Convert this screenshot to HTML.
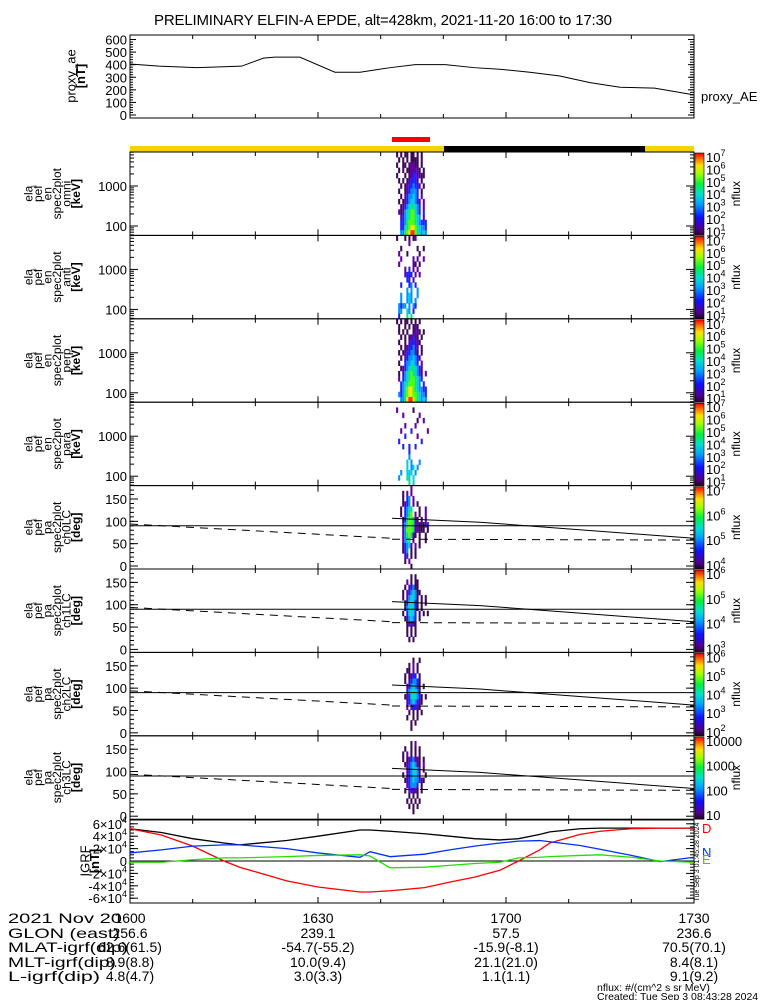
<!DOCTYPE html>
<html><head><meta charset="utf-8">
<style>
html,body{margin:0;padding:0;background:#fff;}
svg{display:block;font-family:"Liberation Sans",sans-serif;}
</style></head>
<body>
<svg id="chart" width="775" height="1000" viewBox="0 0 775 1000" xmlns="http://www.w3.org/2000/svg"></svg>
<script>
// ---------- DATA ----------
const aeMinutes = [0,4.6,10.6,13.8,17.8,21.3,23.1,27.1,32.7,36.7,41.5,45.5,50.3,55,59,63.8,68.6,73.4,78.2,83.7,90];
const aeValues  = [405,388,376,381,388,452,460,460,340,340,376,400,400,376,364,340,310,257,221,214,160];
const aeTicks = [0,100,200,300,400,500,600];

const igrfMinutes = [0,5,10,15,17.5,25,30,36.7,38.3,41.5,47,51,55,59,62,65.4,67,71.8,75,80,84.6,90];
const igrfTotal = [5.2,4.6,3.6,2.9,2.6,3.3,4.0,5.0,5.0,4.8,4.4,4.0,3.6,3.4,3.6,4.3,4.7,5.2,5.3,5.3,5.3,5.3];
const igrfD     = [5.2,4.2,2.4,0.0,-1.0,-3.2,-4.2,-5.0,-5.0,-4.8,-4.3,-3.4,-2.6,-1.5,0.0,1.8,2.9,4.3,4.8,5.2,5.3,5.3];
const igrfN     = [1.3,1.8,2.4,2.6,2.6,2.0,1.3,0.6,1.5,0.7,1.1,1.8,2.4,2.9,3.2,3.3,3.1,2.5,1.9,0.9,-0.1,0.6];
const igrfE     = [-0.2,-0.2,0.2,0.5,0.5,0.7,0.9,1.0,0.8,-1.1,-1.0,-0.7,-0.4,-0.2,0.5,0.6,0.7,0.9,1.0,0.6,0.0,-0.2];
const igrfTicks = [-6,-4,-2,0,2,4,6];

const timeTickLabels = ["1600","1630","1700","1730"];
const rowNames = ["2021 Nov 20","GLON (east)","MLAT-igrf(dip)","MLT-igrf(dip)","L-igrf(dip)"];
const rowNameWidths = [114,112,120,108,92];
const glonVals = ["256.6","239.1","57.5","236.6"];
const mlatVals = ["62.6(61.5)","-54.7(-55.2)","-15.9(-8.1)","70.5(70.1)"];
const mltVals  = ["8.9(8.8)","10.0(9.4)","21.1(21.0)","8.4(8.1)"];
const lVals    = ["4.8(4.7)","3.0(3.3)","1.1(1.1)","9.1(9.2)"];

const specOmni = [
"..1.1.11.11.1.1....",
"...1.1.1.1111.1....",
"..1..11.12211.1....",
"...1.1.1122221.1...",
"..1...1.12332211...",
"...1.1.123332.1....",
"....1.12334332.1...",
"...1..1234443.1....",
"....1.2344543.2....",
"...1.123455432.2...",
"....1234566543.2...",
"...21245677543.3...",
"....2345677654.2...",
"....3346777654333..",
"....3356788765443..",
"....4467899765454.."];
const specAnti = [
"..1...1.1.12.......",
"........2..........",
"....1.......1..1...",
"...2...1.....1.....",
"....2.....2.2..2...",
"...2......21.1.....",
"......2.3.2.2......",
"......2333.2.2.....",
".......33.2........",
"....3...34.3.......",
".......4.4..4......",
"....4..454..4......",
"....4..454.4.......",
"...4344.4.43.......",
"...44..54.3........",
"...3...6.6........."];
const specPerp = [
"..1.1.11.1.1.1.....",
"...1..1.1.121......",
"...1.1.1..1221.1...",
"....1.1.12321.1....",
"...1..1.233221.....",
"....1.1233432.1....",
"...1.12334431.1....",
"....1.23445432.....",
"...1..3445543.2....",
"....12345665432....",
"...1.2456765432.2..",
"...2.3456776543....",
"....3456777654.3...",
"....3457887654433..",
"...43467887765443..",
"....4468998765454.."];
const specPara = [
"...................",
"..2.......1........",
".....2.......2.....",
"............1..2...",
"......2....2.......",
"....2....3.......2.",
"......3.....2......",
"...3..........3....",
".....3..3..3.......",
"........3..........",
"........4..........",
".......5.4...4.....",
".......5.45.4......",
"....4..555.4.......",
"...4...65.5........",
"........6.5........"];
const paCh0 = [
"........2..........",
"....1.2.2..........",
"....1.34.2.........",
"....1234.2.1.......",
"...1.3456...1..2...",
"...1.3467.2.1..2...",
"....13577621.1.2...",
"....2467762211123..",
"....24777622111.1..",
"....2467621.1..1...",
"....2456.2..1..1...",
"....13452.2.1......",
"....134.1.1........",
".....23.1.1........",
".....1.2...........",
"........1.........."];
const paCh1 = [
"...................",
"........1.1........",
"......2.1.11.......",
".....1.23411.......",
"....1.2345411......",
"....1.245541.1.1...",
".....1355531.1.1...",
".....1456531.1.....",
"....1.35553.1.1.1..",
".....124543.1......",
"......12321........",
"......1.1.1........",
"......1.1.1........",
".......1.1.........",
"...................",
"..................."];
const paCh2 = [
"...................",
".........1..1......",
".......1.2.1.......",
"......11.2.1.......",
".....1.1233.1......",
".....1.234431......",
"......2345431.1....",
"......3456541......",
".....123565431.1...",
"......23454321.....",
"......2.23321......",
".......1.1.1.1.....",
"......1..1.1.......",
"........1.1........",
"........1..........",
"..................."];
const paCh3 = [
"...................",
"........1.2........",
".....1..1.1.1......",
"....1.2.1.1.1......",
"....1.1234221.1....",
".....12345421.2....",
"......2345542.1....",
"....1.2345542..1...",
".....1234544321....",
"......234443.1.....",
".....1.23221.1.....",
".......1.1.1.......",
"......1.1.1.1......",
".......1.1.1.......",
".........1.........",
"..................."];

const cbLabels = [
  ["7","6","5","4","3","2","1"],
  ["7","6","5","4","3","2","1"],
  ["7","6","5","4","3","2","1"],
  ["7","6","5","4","3","2","1"],
  ["7","6","5","4"],
  ["6","5","4","3"],
  ["6","5","4","3","2"],
  ["10000","1000","100","10"]
];

// ---------- SETUP ----------
const svg = document.getElementById('chart');
const NS = "http://www.w3.org/2000/svg";
function el(tag, attrs, parent){
  const e = document.createElementNS(NS, tag);
  for (const k in attrs) e.setAttribute(k, attrs[k]);
  (parent||svg).appendChild(e);
  return e;
}
const X0 = 130, X1 = 694;
const xOfMin = m => X0 + (X1 - X0) * m / 90;
const palette = {"1":"#3c0858","2":"#6000a8","3":"#1a20ff","4":"#0090ff","5":"#00d0e8","6":"#00e880","7":"#50ff00","8":"#ffe000","9":"#ff3000"};

let t = el('text',{x:383,y:25,'text-anchor':'middle','font-size':15,textLength:458});
t.textContent = "PRELIMINARY ELFIN-A EPDE, alt=428km, 2021-11-20 16:00 to 17:30";



function xTicks(top, bottom, g){
  for (let i=0;i<=9;i++){
    const x = X0 + i*(X1-X0)/9;
    const len = (i%3===0)?6:4;
    el('line',{x1:x,y1:bottom,x2:x,y2:bottom-len,stroke:'#000'},g);
    el('line',{x1:x,y1:top,x2:x,y2:top+len,stroke:'#000'},g);
  }
}
function rotLabel(lines, cx, cy, g, fs){
  const n = lines.length;
  lines.forEach((s,i)=>{
    const x = cx - (n-1-i)*9.5;
    const tx = el('text',{x:x,y:cy,'font-size':fs||12,'text-anchor':'middle',transform:`rotate(-90 ${x} ${cy})`},g);
    tx.textContent = s;
    if (s.startsWith('[')) tx.setAttribute('font-weight','bold');
  });
}

// ---------- TOP AE PANEL ----------
const aeG = el('g',{});


const aeTop=35, aeBot=118;
const yAE = v => 115 - v*(115-39.5)/600;
el('rect',{x:X0,y:aeTop,width:X1-X0,height:aeBot-aeTop,fill:'none',stroke:'#000'},aeG);
xTicks(aeTop,aeBot,aeG);
aeTicks.forEach(v=>{
  const y=yAE(v);
  el('line',{x1:X0,y1:y,x2:X0+6,y2:y,stroke:'#000'},aeG);
  el('line',{x1:X1,y1:y,x2:X1-6,y2:y,stroke:'#000'},aeG);
  const tl=el('text',{x:X0-3,y:y+5,'text-anchor':'end','font-size':13},aeG); tl.textContent=v;
});
for (let v=20; v<600; v+=20){ const y=yAE(v);
  el('line',{x1:X0,y1:y,x2:X0+3,y2:y,stroke:'#000'},aeG);
  el('line',{x1:X1,y1:y,x2:X1-4,y2:y,stroke:'#000'},aeG);}
rotLabel(["proxy_ae","[nT]"],85,76,aeG,13);
const aeLine = el('polyline',{points:aeMinutes.map((m,i)=>xOfMin(m)+','+yAE(aeValues[i])).join(' '),fill:'none',stroke:'#000','stroke-width':1},aeG);


const aeLeg = el('text',{x:701,y:101,'font-size':13},aeG); aeLeg.textContent="proxy_AE";



// ---------- STATUS BARS ----------
const bars = el('g',{});


el('rect',{x:392,y:137,width:38,height:5,fill:'#f00'},bars);
el('rect',{x:X0,y:146,width:X1-X0,height:6,fill:'#f7d100'},bars);
el('rect',{x:444,y:146,width:201,height:6,fill:'#000'},bars);

// ---------- SPECTRO PANELS ----------
const PT = 152, PH = 83.4;
const panels = [
  {grid:specOmni, lab:["ela","pef","en","spec2plot","omni","[keV]"], kind:'en', name:'omni'},
  {grid:specAnti, lab:["ela","pef","en","spec2plot","anti","[keV]"], kind:'en', name:'anti'},
  {grid:specPerp, lab:["ela","pef","en","spec2plot","perp","[keV]"], kind:'en', name:'perp'},
  {grid:specPara, lab:["ela","pef","en","spec2plot","para","[keV]"], kind:'en', name:'para'},
  {grid:paCh0, lab:["ela","pef","pa","spec2plot","ch0LC","[deg]"], kind:'pa', name:'ch0lc'},
  {grid:paCh1, lab:["ela","pef","pa","spec2plot","ch1LC","[deg]"], kind:'pa', name:'ch1lc'},
  {grid:paCh2, lab:["ela","pef","pa","spec2plot","ch2LC","[deg]"], kind:'pa', name:'ch2lc'},
  {grid:paCh3, lab:["ela","pef","pa","spec2plot","ch3LC","[deg]"], kind:'pa', name:'ch3lc'}
];
panels.forEach((p,pi)=>{
  const top = PT + pi*PH, bot = top + PH;
  const g = el('g',{});
  
  
  const gx0 = p.kind==='en' ? 392 : 394, cw = 2.05;
  const rows = p.grid.length, rh = PH/rows;
  p.grid.forEach((row,ri)=>{
    for (let ci=0; ci<row.length; ci++){
      const c=row[ci]; if (c==='.') continue;
      el('rect',{x:gx0+ci*cw,y:top+ri*rh,width:cw,height:rh+0.3,fill:palette[c]},g);
    }
  });
  el('rect',{x:X0,y:top,width:X1-X0,height:PH,fill:'none',stroke:'#000'},g);
  xTicks(top,bot,g);
  if (p.kind==='en'){
    const yE = e => top + 74 - (Math.log10(e)-2)*40;
    [100,1000].forEach(v=>{
      const y=yE(v);
      el('line',{x1:X0,y1:y,x2:X0+8,y2:y,stroke:'#000'},g);
      el('line',{x1:X1,y1:y,x2:X1-8,y2:y,stroke:'#000'},g);
      const tl=el('text',{x:X0-3,y:y+5,'text-anchor':'end','font-size':13},g); tl.textContent=v;
    });
    [60,70,80,90,200,300,400,500,600,700,800,900,2000,3000,4000,5000,6000,7000].forEach(v=>{
      const y=yE(v); if (y<top||y>bot) return;
      el('line',{x1:X0,y1:y,x2:X0+4,y2:y,stroke:'#000'},g);
      el('line',{x1:X1,y1:y,x2:X1-4,y2:y,stroke:'#000'},g);
    });
  } else {
    const yP = d => bot - 3 - d*(PH-3)/180;
    [0,50,100,150].forEach(v=>{
      const y=yP(v);
      el('line',{x1:X0,y1:y,x2:X0+8,y2:y,stroke:'#000'},g);
      el('line',{x1:X1,y1:y,x2:X1-8,y2:y,stroke:'#000'},g);
      const tl=el('text',{x:X0-3,y:y+5,'text-anchor':'end','font-size':13},g); tl.textContent=v;
    });
    for (let v=10; v<180; v+=10){ const y=yP(v);
      el('line',{x1:X0,y1:y,x2:X0+4,y2:y,stroke:'#000'},g);
      el('line',{x1:X1,y1:y,x2:X1-4,y2:y,stroke:'#000'},g);}
    el('line',{x1:X0,y1:yP(90),x2:X1,y2:yP(90),stroke:'#000'},g);
    el('polyline',{points:`${X0},${yP(94)} 392,${yP(62)}`,fill:'none',stroke:'#000','stroke-dasharray':'8,6'},g);
    el('polyline',{points:`392,${yP(60)} ${X1},${yP(58)}`,fill:'none',stroke:'#000','stroke-dasharray':'8,6'},g);
    el('polyline',{points:`392,${yP(107)} 480,${yP(98)} ${X1},${yP(62)}`,fill:'none',stroke:'#000'},g);
  }
  rotLabel(p.lab, 80, top+PH/2, g, 12);
  const cb = el('g',{});
  
  
  const cbTop = top+1, cbH = PH-1;
  const id='grad'+pi;
  const lg = el('linearGradient',{id:id,x1:0,y1:1,x2:0,y2:0},cb);
  [["0","#200020"],["0.08","#500090"],["0.22","#1010ff"],["0.38","#00a0ff"],["0.5","#00e0d0"],["0.62","#00f040"],["0.75","#a0ff00"],["0.85","#ffe000"],["0.94","#ff6000"],["1","#ff0000"]]
    .forEach(s=>el('stop',{offset:s[0],'stop-color':s[1]},lg));
  el('rect',{x:695,y:cbTop,width:9,height:cbH,fill:`url(#${id})`,stroke:'#000','stroke-width':0.6},cb);
  const labs = cbLabels[pi], n=labs.length;
  labs.forEach((s,i)=>{
    const y = cbTop + 5 + i*(cbH-8)/(n-1) + 4;
    const tl = el('text',{x:706,y:y,'font-size':13},cb);
    if (s.length===1){
      tl.textContent='10';
      const sp=el('tspan',{dy:-6,'font-size':9},tl); sp.textContent=s;
    } else tl.textContent=s;
  });
  const nf = el('text',{x:740,y:top+PH/2,'font-size':12,'text-anchor':'middle',transform:`rotate(-90 740 ${top+PH/2})`},cb);
  nf.textContent='nflux';
});

// ---------- IGRF PANEL ----------
const ig = el('g',{});


const iTop=820, iBot=903;
const yI = v => 861 - v*6.2;
el('rect',{x:X0,y:iTop,width:X1-X0,height:iBot-iTop,fill:'none',stroke:'#000'},ig);
xTicks(iTop,iBot,ig);
el('line',{x1:X0,y1:yI(0),x2:X1,y2:yI(0),stroke:'#000'},ig);
igrfTicks.forEach(v=>{
  const y=yI(v);
  el('line',{x1:X0,y1:y,x2:X0+8,y2:y,stroke:'#000'},ig);
  el('line',{x1:X1,y1:y,x2:X1-8,y2:y,stroke:'#000'},ig);
  const tl=el('text',{x:X0-3,y:y+5,'text-anchor':'end','font-size':13},ig);
  if (v===0) tl.textContent='0';
  else { tl.textContent=(v*1)+'\u00d710'; const sp=el('tspan',{dy:-6,'font-size':9},tl); sp.textContent='4'; }
});
for (let v=-6; v<=6; v+=0.5){ const y=yI(v);
  el('line',{x1:X0,y1:y,x2:X0+4,y2:y,stroke:'#000'},ig);
  el('line',{x1:X1,y1:y,x2:X1-4,y2:y,stroke:'#000'},ig);}
rotLabel(["IGRF","[nT]"],99,861,ig,13);
[[igrfTotal,'#000','igrf-total-line'],[igrfD,'#f00','igrf-d-line'],[igrfN,'#0030ff','igrf-n-line'],[igrfE,'#22e000','igrf-e-line']].forEach(s=>{
  const pl = el('polyline',{points:igrfMinutes.map((m,i)=>xOfMin(m)+','+yI(s[0][i])).join(' '),fill:'none',stroke:s[1],'stroke-width':1.3},ig);
  
  
});
[["D",'#f00',833],["N",'#0030ff',857],["E",'#22e000',864]].forEach(s=>{
  const tl=el('text',{x:702,y:s[2],'font-size':13,fill:s[1]},ig); tl.textContent=s[0];
});
const stamp=el('text',{x:699,y:862,'font-size':7,'text-anchor':'middle',transform:'rotate(-90 699 862)'},ig);
stamp.textContent='Tue Sep  3 01:45:28 2024';

// ---------- BOTTOM TABLE ----------
const tb = el('g',{});


const rowY=[923,938,952,967,981];
rowNames.forEach((s,i)=>{ const tl=el('text',{x:8,y:rowY[i],'font-size':14,textLength:rowNameWidths[i],lengthAdjust:'spacingAndGlyphs'},tb); tl.textContent=s; });
const cols=[timeTickLabels,glonVals,mlatVals,mltVals,lVals];
const colX=[130,318,506,694];
cols.forEach((arr,ri)=>arr.forEach((s,ci)=>{
  const tl=el('text',{x:colX[ci],y:rowY[ri],'font-size':14,'text-anchor':'middle'},tb); tl.textContent=s;
}));
const f1=el('text',{x:597,y:991,'font-size':10.5},tb); f1.textContent='nflux: #/(cm^2 s sr MeV)';
const f2=el('text',{x:597,y:1000,'font-size':10.5},tb); f2.textContent='Created: Tue Sep  3 08:43:28 2024';
</script>
</body></html>
